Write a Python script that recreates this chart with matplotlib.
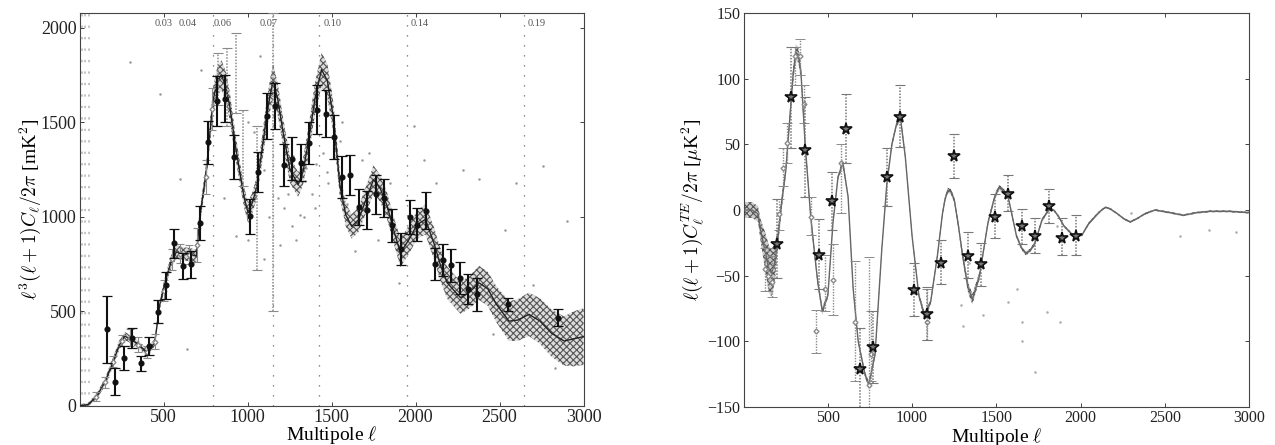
import numpy as np
import matplotlib
matplotlib.use('Agg')
import matplotlib.pyplot as plt

plt.rcParams['font.family'] = ['Liberation Serif', 'DejaVu Serif']
plt.rcParams['mathtext.fontset'] = 'cm'
plt.rcParams['hatch.linewidth'] = 0.8

# left panel: temperature spectrum
tt_l = [2, 50, 100, 150, 200, 235, 268, 300, 350, 400, 447, 477, 510, 546, 576, 620, 660, 695, 715, 735, 755, 775, 795,
        820, 844, 870, 894, 925, 954, 980, 1003, 1030, 1053, 1085, 1113, 1135, 1152, 1180, 1212, 1252, 1301, 1330, 1361,
        1400, 1440, 1475, 1510, 1550, 1585, 1620, 1660, 1700, 1750, 1790, 1830, 1870, 1910, 1960, 2010, 2059, 2110,
        2150, 2189, 2230, 2268, 2320, 2377, 2430, 2480, 2556, 2610, 2675, 2740, 2810, 2884, 2940, 3000]
tt_mid = [0, 8, 50, 125, 235, 320, 370, 355, 325, 285, 335, 537, 660, 766, 815, 805, 800, 793, 1000, 1120, 1250, 1440, 1620,
          1720, 1750, 1690, 1585, 1390, 1233, 1100, 1022, 1080, 1154, 1350, 1533, 1650, 1718, 1620, 1445, 1251, 1171, 1240,
          1392, 1620, 1780, 1720, 1530, 1163, 1010, 950, 985, 1080, 1198, 1150, 1060, 930, 810, 880, 960, 987, 860,
          740, 652, 610, 573, 600, 652, 620, 540, 449, 455, 485, 450, 385, 344, 355, 367]
tt_err = [8, 10, 15, 20, 25, 25, 22, 20, 20, 20, 20, 25, 30, 35, 35, 35, 35, 35, 40, 45, 50, 60, 65,
          75, 80, 80, 75, 65, 60, 55, 55, 55, 60, 70, 80, 85, 90, 85, 75, 70, 65, 70,
          75, 85, 90, 90, 80, 65, 60, 65, 65, 70, 75, 70, 70, 70, 75, 75, 75, 80, 85,
          85, 85, 85, 85, 85, 90, 90, 95, 105, 110, 115, 120, 125, 130, 145, 150]

tt_x = [163, 213, 262, 314, 364, 413, 465, 515, 564, 614, 664, 715, 767, 819, 868, 920, 1013, 1063, 1117, 1166, 1216,
        1266, 1319, 1367, 1415, 1466, 1512, 1560, 1612, 1665, 1713, 1765, 1815, 1862, 1912, 1964, 2011, 2063, 2113,
        2162, 2212, 2266, 2315, 2365, 2552, 2848]
tt_y = [405, 129, 255, 360, 225, 317, 499, 638, 860, 740, 749, 969, 1395, 1612, 1626, 1316, 1004, 1237, 1533, 1589, 1274,
        1309, 1286, 1392, 1568, 1547, 1424, 1212, 1221, 1054, 1036, 1119, 1101, 955, 832, 1000, 960, 1034, 752,
        772, 745, 678, 620, 590, 537, 467]
tt_e = [176, 70, 62, 55, 40, 47, 60, 72, 78, 70, 70, 90, 115, 133, 125, 116, 92, 105, 123, 122, 110,
        112, 98, 112, 128, 123, 116, 112, 105, 96, 101, 101, 99, 88, 85, 90, 86, 98, 83,
        85, 87, 84, 80, 85, 35, 45]

tt_gx = [825, 880, 930, 974, 1053, 1152]
tt_gy = [1730, 1700, 1760, 1365, 1100, 1300]
tt_glo = [1590, 1480, 1551, 1163, 719, 502]
tt_ghi = [1868, 1894, 1974, 1568, 1480, 2079]
tt_sx = [100, 150, 200, 250, 300, 350, 400, 450, 500, 550, 600, 650, 700, 750, 790]
tt_sy = [50, 125, 235, 345, 360, 325, 285, 340, 610, 775, 805, 800, 850, 1210, 1570]
tt_se = [25, 30, 30, 30, 45, 40, 30, 40, 55, 55, 50, 50, 90, 90, 110]

scale_l = [795, 1152, 1427, 1947, 2647]
scale_txt_x = [500, 646, 850, 1125, 1504, 2023, 2722]
scale_txt = ['0.03', '0.04', '0.06', '0.07', '0.10', '0.14', '0.19']
edge_l = [12, 32, 55]

# stray scan dots
dots_x = [300, 480, 600, 640, 720, 860, 930, 1000, 1040, 1075, 1100, 1130, 1190, 1215, 1240, 1265, 1290, 1310, 1335,
          1350, 1385, 1410, 1450, 1480, 1520, 1550, 1590, 1640, 1680, 1725, 1775, 1850, 1900, 1990, 2050, 2120, 2220,
          2280, 2380, 2460, 2530, 2600, 2700, 2760, 2830, 2900, 1180, 1270, 1340, 1400, 1470, 1000, 1100, 1560]
dots_y = [1820, 1650, 1200, 300, 1780, 1100, 900, 880, 1450, 1850, 1250, 1000, 850, 1050, 1120, 950, 880, 1010, 1000,
          1260, 1120, 1280, 1340, 1180, 1310, 1400, 1070, 820, 1300, 1340, 880, 1180, 650, 1480, 1300, 1180, 560,
          1250, 1200, 380, 930, 1180, 640, 1270, 200, 980, 1100, 1320, 1190, 1050, 1240, 1500, 780, 1500]

# right panel: TE spectrum
te_l = [2, 25, 50, 85, 100, 125, 150, 165, 185, 200, 225, 250, 280, 295, 310, 325, 340, 365, 398, 420, 440, 467, 500, 530, 560, 589,
        620, 650, 680, 720, 743, 780, 820, 850, 880, 905, 930, 960, 1000, 1040, 1075, 1110, 1150, 1180, 1195, 1212, 1230, 1250,
        1275, 1300, 1330, 1358, 1400, 1450, 1490, 1516, 1540, 1570, 1620, 1650, 1674, 1700, 1730, 1770, 1810, 1841, 1870, 1900,
        1960, 2009, 2050, 2100, 2125, 2147, 2175, 2220, 2260, 2295, 2330, 2380, 2442, 2530, 2610, 2690, 2768, 2880, 3000]
te_mid = [0, 0, 0, -3, -15, -30, -45, -48, -40, -25, 5, 30, 80, 105, 120, 118, 105, 50, -5, -32, -55, -77, -65, -10, 25, 36,
          10, -60, -100, -125, -133, -110, -30, 20, 50, 64, 71, 40, -20, -65, -81, -70, -35, -3, 8, 15, 14, 8,
          -12, -35, -58, -68, -50, -10, 10, 17, 15, 10, -20, -29, -33, -31, -25, -8, 0, 0, -5, -12,
          -20, -19, -10, -3, 0, 2, 1, -3, -7, -9, -7, -3, 0, -2, -4, -2, -1, -1, -2]
te_err = [6, 6, 6, 6, 8, 14, 18, 18, 15, 8, 5, 4, 5, 6, 6, 6, 5, 4, 3, 3, 3, 3, 2, 2, 2, 3,
          2, 2, 2, 2, 3, 2, 2, 2, 2, 2, 3, 2, 2, 2, 3, 2, 2, 2, 2, 2, 2, 2,
          3, 3, 4, 4, 3, 2, 2, 2, 2, 1.5, 1.5, 1.5, 1.5, 1.5, 1.5, 1.5, 1, 1, 1, 1,
          1, 1, 1, 1, 0.7, 0.7, 0.7, 0.7, 0.7, 0.7, 0.7, 0.7, 0.7, 0.7, 0.7, 0.7, 0.7, 0.7, 0.7]

star_x = [199, 282, 365, 445, 526, 607, 688, 769, 850, 930, 1011, 1090, 1171, 1250, 1329, 1409, 1490, 1569, 1652,
          1731, 1814, 1892, 1973]
star_y = [-26, 86, 46, -34, 7, 62, -121, -104, 25, 71, -61, -79, -40, 41, -35, -41, -5, 12, -12, -20, 3, -21, -20]
star_hi = [8, 124, 86, -7, 29, 88, -90, -77, 47, 95, -40, -59, -23, 58, -17, -25, 12, 27, 1, -6, 16, -6, -4]
star_lo = [-52, 47, 10, -60, -15, 36, -152, -132, 3, 48, -81, -99, -56, 24, -52, -58, -21, -1, -26, -33, -10, -34, -34]

te_gx = [125, 145, 170, 211, 235, 255, 303, 334, 360, 398, 431, 480, 530, 580, 658, 743, 755, 1090]
te_gy = [-45, -50, -55, -3, 32, 51, 117, 117, 81, -5, -92, -60, -53, 36, -85, -133, -110, -85]
te_ghi = [-29, -29, -35, 8, 47, 66, 124, 130, 95, 10, -76, -34, -26, 50, -39, -36, -77, -60]
te_glo = [-62, -62, -66, -15, 18, 36, 95, 103, 66, -19, -109, -77, -80, -2, -130, -152, -130, -99]

dots2_x = [1290, 1420, 1570, 1620, 1650, 1730, 1800, 1880, 2300, 2590, 2760, 2920, 1340, 1300, 1650, 1860]
dots2_y = [-72, -80, -70, -60, -100, -123, -78, -85, -2, -20, -15, -17, -40, -88, -85, -12]

gray = '#8a8a8a'

fig = plt.figure(figsize=(12.75, 4.45), dpi=100)

ax = fig.add_axes([80 / 1275, 1 - 406 / 445, 503.5 / 1275, 393 / 445])
for x in scale_l:
    ax.plot([x, x], [0, 2079], ls=(0, (1, 7)), color='#666666', lw=0.9, zorder=1)
for x in edge_l:
    ax.plot([x, x], [0, 2079], ls=(0, (1.5, 6)), color='#b5b5b5', lw=1.1, zorder=1)
ax.plot(dots_x, dots_y, ls='none', marker='.', ms=1.6, color='#999999', zorder=1)
for x, s in zip(scale_txt_x, scale_txt):
    ax.text(x, 2023, s, fontsize=7.5, color='#555555', ha='center', va='center')
tt_mid = np.array(tt_mid, dtype=float)
tt_err = np.array(tt_err, dtype=float)
ax.fill_between(tt_l, tt_mid - tt_err, tt_mid + tt_err, facecolor='#dddddd', edgecolor='#555555',
                hatch='xxxxx', linewidth=0, zorder=2)
ax.plot(tt_l, tt_mid, color='#222222', lw=1.0, zorder=3)
ax.errorbar(tt_sx, tt_sy, yerr=tt_se, fmt='D', ms=2.5, mfc='white', mec=gray, ecolor=gray, elinewidth=0.8,
            capsize=3, capthick=0.8, zorder=3)
eb = ax.errorbar(tt_gx, tt_gy, yerr=[np.array(tt_gy) - np.array(tt_glo), np.array(tt_ghi) - np.array(tt_gy)], fmt='none',
                 ecolor=gray, elinewidth=1.1, capsize=3.5, capthick=0.8, zorder=3)
eb[2][0].set_linestyle((0, (1, 1)))
ax.errorbar(tt_x, tt_y, yerr=tt_e, fmt='o', ms=3.4, color='#111111', elinewidth=1.5, capsize=3.5, capthick=0.9, zorder=4)
ax.set_xlim(2, 3000)
ax.set_ylim(0, 2079)
ax.set_yticks([0, 500, 1000, 1500, 2000])
ax.set_xticks([500, 1000, 1500, 2000, 2500, 3000])
ax.set_ylabel(r'$\ell^3(\ell+1)C_\ell/2\pi$ [mK$^2$]', fontsize=14, labelpad=-2)

bx = fig.add_axes([744 / 1275, 1 - 407 / 445, 505 / 1275, 394 / 445])
bx.plot(dots2_x, dots2_y, ls='none', marker='.', ms=1.6, color='#aaaaaa', zorder=1)
te_mid = np.array(te_mid, dtype=float)
te_err = np.array(te_err, dtype=float)
bx.fill_between(te_l, te_mid - te_err, te_mid + te_err, facecolor='#cccccc', edgecolor='#555555',
                hatch='xxxxx', linewidth=0, zorder=2)
bx.plot(te_l, te_mid, color='#666666', lw=1.0, zorder=3)
eb = bx.errorbar(te_gx, te_gy, yerr=[np.array(te_gy) - np.array(te_glo), np.array(te_ghi) - np.array(te_gy)], fmt='D', ms=2.5,
                 mfc='white', mec=gray, ecolor=gray, elinewidth=1.0, capsize=3.5, capthick=0.7, zorder=3)
eb[2][0].set_linestyle((0, (1, 1)))
eb = bx.errorbar(star_x, star_y, yerr=[np.array(star_y) - np.array(star_lo), np.array(star_hi) - np.array(star_y)], fmt='none',
                 ecolor='#777777', elinewidth=1.1, capsize=3.5, capthick=0.8, zorder=4)
eb[2][0].set_linestyle((0, (1, 1)))
bx.plot(star_x, star_y, ls='none', marker='*', ms=8.5, mfc='#777777', mec='#111111', mew=1.2, zorder=5)
bx.set_xlim(2, 3000)
bx.set_ylim(-150, 150)
bx.set_yticks([-150, -100, -50, 0, 50, 100, 150])
bx.set_xticks([500, 1000, 1500, 2000, 2500, 3000])
bx.set_yticklabels(['\u2212150', '\u2212100', '\u221250', '0', '50', '100', '150'])
bx.set_ylabel(r'$\ell(\ell+1)C_\ell^{TE}/2\pi$ [$\mu$K$^2$]', fontsize=14, labelpad=1)

for a, tick_size in ((ax, 13), (bx, 11.5)):
    a.set_xlabel(r'Multipole $\ell$', fontsize=14)
    a.xaxis.set_label_coords(0.5, -0.047)
    a.tick_params(direction='in', top=True, right=True, length=3, width=0.6, labelsize=tick_size, pad=2.5, colors='#222222')
    for s in a.spines.values():
        s.set_linewidth(0.8)
        s.set_color('#444444')

fig.savefig('out.png', dpi=100)
